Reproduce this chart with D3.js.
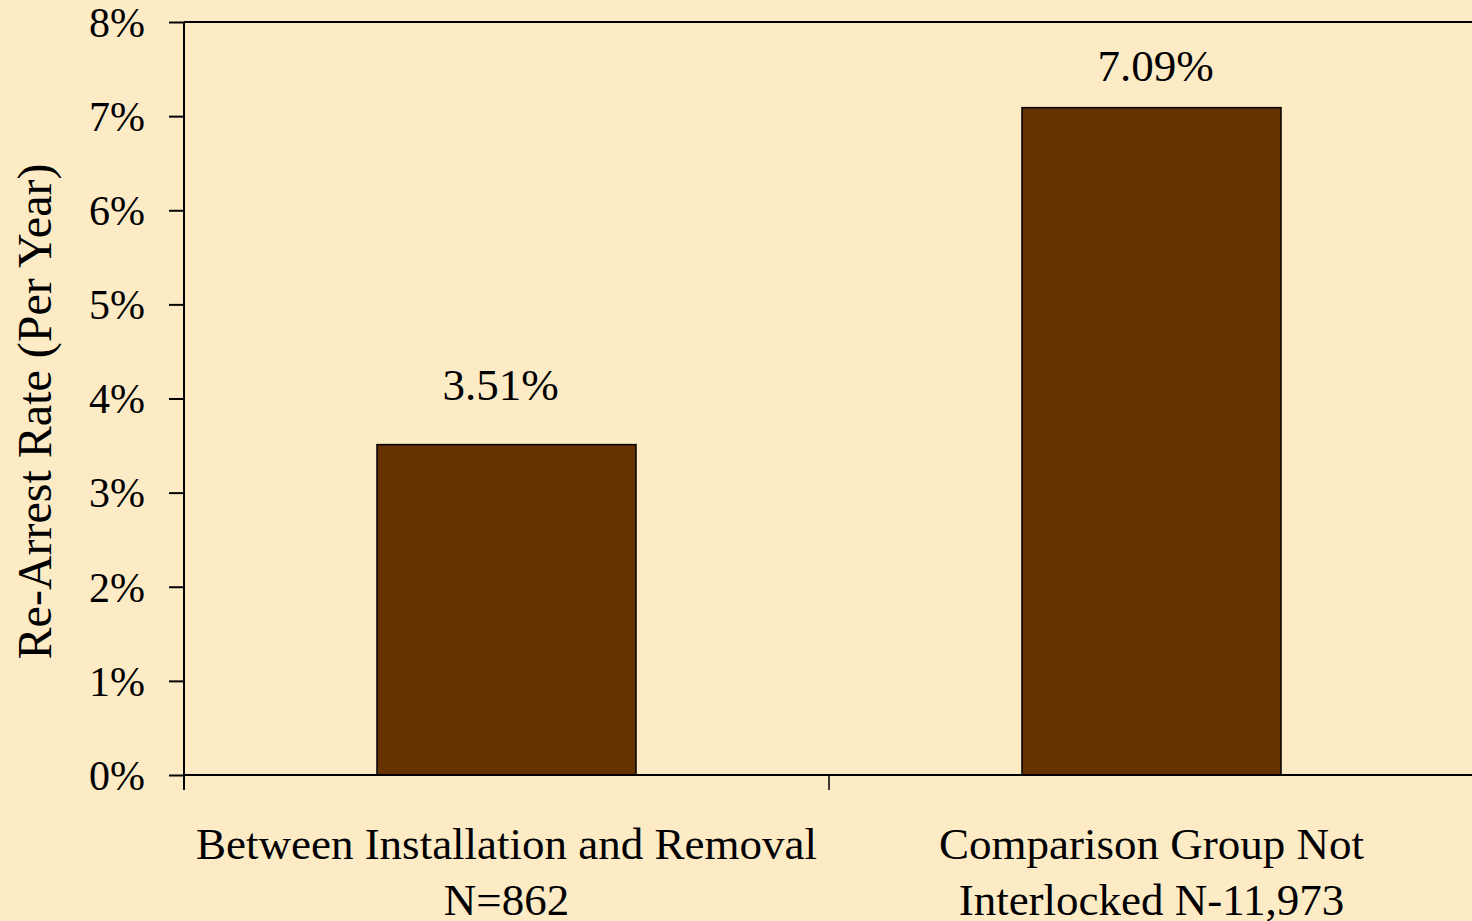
<!DOCTYPE html>
<html>
<head>
<meta charset="utf-8">
<script src="https://cdn.jsdelivr.net/npm/d3@7"></script>
<style>
  html, body { margin: 0; padding: 0; background: #fdebc6; }
  svg { display: block; }
  text { font-family: "Liberation Serif", "Times New Roman", serif; fill: #000; }
</style>
</head>
<body>
<svg width="1472" height="921"></svg>
<script>
// chart data
var categories = [
  ['Between Installation and Removal', 'N=862'],
  ['Comparison Group Not', 'Interlocked N-11,973']
];
var values = [3.51, 7.09];
var valueLabels = ['3.51%', '7.09%'];
var yTicks = [0, 1, 2, 3, 4, 5, 6, 7, 8];

var W = 1472, H = 921;
var mLeft = 184, mTop = 22, mRight = 1474, mBottom = 775;

var svg = d3.select('svg');

var x = d3.scaleBand()
  .domain(d3.range(values.length))
  .range([mLeft, mRight])
  .paddingInner(0)
  .paddingOuter(0);

var y = d3.scaleLinear().domain([0, 8]).range([mBottom, mTop]);

var barW = 259;
// hand-placed value labels in the original, nudged a little off centre
var labelNudge = [{dx: -6, dy: -45}, {dx: 4, dy: -27}];

// top frame line
svg.append('line')
  .attr('x1', mLeft).attr('x2', W)
  .attr('y1', y(8)).attr('y2', y(8))
  .style('stroke', '#000').style('stroke-width', 2);

// bars
svg.selectAll('rect.bar')
  .data(values)
  .enter()
  .append('rect')
  .attr('class', 'bar')
  .attr('x', function(d, i) { return x(i) + x.bandwidth() / 2 - barW / 2; })
  .attr('y', function(d) { return y(d); })
  .attr('width', barW)
  .attr('height', function(d) { return y(0) - y(d); })
  .style('fill', '#663300')
  .style('stroke', '#000')
  .style('stroke-width', 1.5);

// y axis
var yAxis = d3.axisLeft(y)
  .tickValues(yTicks)
  .tickSize(15)
  .tickPadding(24)
  .tickFormat(function(d) { return d + '%'; });

var gy = svg.append('g')
  .attr('transform', 'translate(' + mLeft + ',0)')
  .call(yAxis);
gy.select('.domain').remove();
gy.selectAll('.tick line').style('stroke', '#000').style('stroke-width', 2);
gy.selectAll('.tick text').style('font-size', '42px').style('font-family', '"Liberation Serif", serif').attr('dy', '0.34em');
gy.append('line')
  .attr('x1', 0).attr('x2', 0)
  .attr('y1', mTop).attr('y2', mBottom + 15)
  .style('stroke', '#000').style('stroke-width', 2);

// x axis
svg.append('line')
  .attr('x1', mLeft).attr('x2', W)
  .attr('y1', mBottom).attr('y2', mBottom)
  .style('stroke', '#000').style('stroke-width', 2);
svg.selectAll('line.xtick')
  .data([1])
  .enter()
  .append('line')
  .attr('class', 'xtick')
  .attr('x1', function(d) { return x(d); })
  .attr('x2', function(d) { return x(d); })
  .attr('y1', mBottom).attr('y2', mBottom + 15)
  .style('stroke', '#000').style('stroke-width', 1.5);

// category labels
var cat = svg.selectAll('text.cat')
  .data(categories)
  .enter()
  .append('text')
  .attr('class', 'cat')
  .attr('text-anchor', 'middle')
  .style('font-size', '45px');
cat.selectAll('tspan')
  .data(function(d, i) { return d.map(function(s) { return { s: s, i: i }; }); })
  .enter()
  .append('tspan')
  .attr('x', function(d) { return x(d.i) + x.bandwidth() / 2; })
  .attr('y', function(d, j) { return 859 + j * 56; })
  .text(function(d) { return d.s; });

// value labels
svg.selectAll('text.val')
  .data(values)
  .enter()
  .append('text')
  .attr('class', 'val')
  .attr('text-anchor', 'middle')
  .attr('x', function(d, i) { return x(i) + x.bandwidth() / 2 + labelNudge[i].dx; })
  .attr('y', function(d, i) { return y(d) + labelNudge[i].dy; })
  .style('font-size', '45px')
  .text(function(d, i) { return valueLabels[i]; });

// y axis title
svg.append('text')
  .attr('text-anchor', 'middle')
  .attr('transform', 'translate(51,' + ((mTop + mBottom) / 2 + 13) + ') rotate(-90)')
  .style('font-size', '48px')
  .text('Re-Arrest Rate (Per Year)');
</script>
</body>
</html>
